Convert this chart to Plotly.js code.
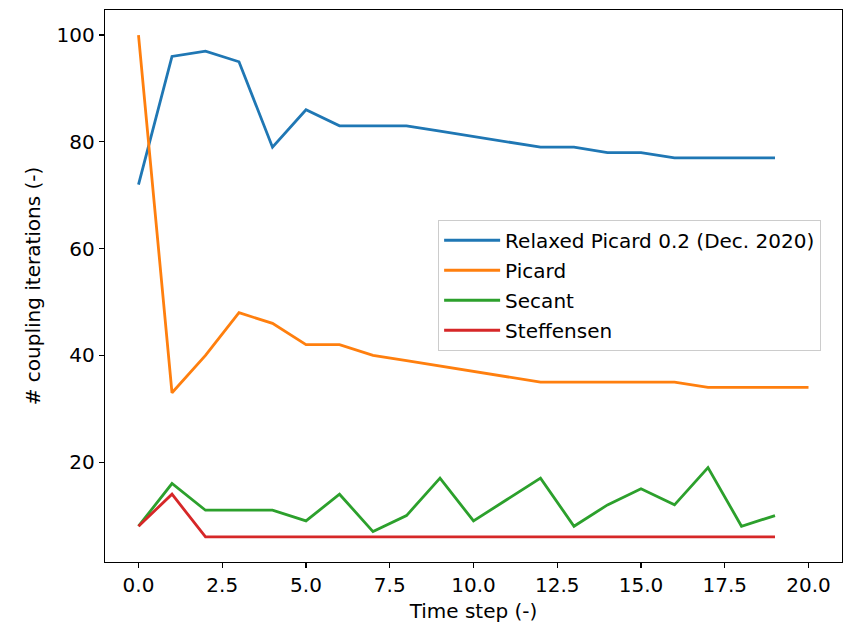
<!DOCTYPE html>
<html>
<head>
<meta charset="utf-8">
<script src="https://cdn.plot.ly/plotly-3.0.1.min.js"></script>
<style>html,body{margin:0;padding:0;background:#fff;}#chart{width:848px;height:623px;}</style>
</head>
<body>
<div id="chart"></div>
<script>
const steps19 = [0,1,2,3,4,5,6,7,8,9,10,11,12,13,14,15,16,17,18,19];
const steps20 = [0,1,2,3,4,5,6,7,8,9,10,11,12,13,14,15,16,17,18,19,20];
const relaxedPicard = [72,96,97,95,79,86,83,83,83,82,81,80,79,79,78,78,77,77,77,77];
const picard = [100,33,40,48,46,42,42,40,39,38,37,36,35,35,35,35,35,34,34,34,34];
const secant = [8,16,11,11,11,9,14,7,10,17,9,13,17,8,12,15,12,19,8,10];
const steffensen = [8,14,6,6,6,6,6,6,6,6,6,6,6,6,6,6,6,6,6,6];
const seriesNames = ["Relaxed Picard 0.2 (Dec. 2020)","Picard","Secant","Steffensen"];
const colors = ["#1f77b4","#ff7f0e","#2ca02c","#d62728"];
const xTicks = [0,2.5,5,7.5,10,12.5,15,17.5,20];
const xTickText = ["0.0","2.5","5.0","7.5","10.0","12.5","15.0","17.5","20.0"];
const yTicks = [20,40,60,80,100];

const xs = [steps19, steps20, steps19, steps19];
const ys = [relaxedPicard, picard, secant, steffensen];
const traces = ys.map((y,i)=>({
  x: xs[i], y: y, type: 'scatter', mode: 'lines', name: seriesNames[i],
  legendgroup: 'g'+i,
  line: {color: colors[i], width: 2.8}
}));

const font = {family: 'DejaVu Sans, sans-serif', size: 20, color: '#000'};
const layout = {
  width: 848, height: 623,
  margin: {l: 105, r: 6, t: 10, b: 61},
  paper_bgcolor: '#fff', plot_bgcolor: '#fff',
  font: font,
  showlegend: true,
  legend: {
    x: 0.452, y: 0.62, xanchor: 'left', yanchor: 'top',
    bgcolor: 'rgba(255,255,255,0.8)', bordercolor: '#cccccc', borderwidth: 1,
    font: {family: 'DejaVu Sans, sans-serif', size: 20, color: '#000'},
    itemwidth: 56,
    tracegroupgap: 1
  },
  xaxis: {
    range: [-1, 21], tickvals: xTicks, ticktext: xTickText,
    ticks: 'outside', ticklen: 5, tickwidth: 1.2, tickcolor: '#000',
    showline: true, mirror: true, linecolor: '#000', linewidth: 1.2,
    showgrid: false, zeroline: false,
    title: {text: 'Time step (-)', font: font, standoff: 8}
  },
  yaxis: {
    range: [1.3, 104.7], tickvals: yTicks,
    ticks: 'outside', ticklen: 5, tickwidth: 1.2, tickcolor: '#000',
    showline: true, mirror: true, linecolor: '#000', linewidth: 1.2,
    showgrid: false, zeroline: false,
    title: {text: '# coupling iterations (-)', font: font, standoff: 10}
  }
};
Plotly.newPlot('chart', traces, layout, {displayModeBar: false, staticPlot: true});
</script>
</body>
</html>
